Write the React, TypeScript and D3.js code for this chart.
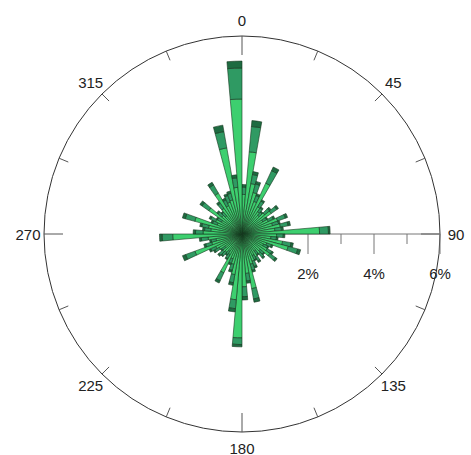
import React from "react";
import * as d3 from "d3";

// Wind direction bins: 72 sectors of 5 degrees, sector i spans [i*5, i*5+5]
const binStarts = d3.range(0, 360, 5);

// Frequency (%) per sector for each speed class, stacked from the centre outward
const speedLow = [
  1.2, 2.5, 1.55, 1.3, 1.05, 1.7, 0.95, 0.82, 0.74, 0.9, 1.08, 0.73,
  0.88, 1.15, 0.96, 1.18, 1.0, 2.35, 1.05, 0.88, 1.25, 1.45, 0.8, 0.72,
  0.88, 1.03, 0.72, 0.78, 0.64, 0.8, 0.72, 0.88, 0.95, 1.68, 1.2, 1.6,
  3.15, 2.0, 1.25, 0.95, 0.8, 1.3, 0.72, 0.64, 0.72, 0.76, 0.64, 0.8,
  0.88, 1.52, 0.95, 0.8, 1.03, 2.1, 1.18, 0.95, 1.03, 1.48, 0.8, 0.88,
  0.72, 1.23, 0.8, 0.72, 0.95, 1.43, 0.95, 1.03, 1.07, 2.65, 1.42, 4.09,
];
const speedMid = [
  0.22, 0.77, 0.28, 0.27, 0.19, 0.42, 0.2, 0.14, 0.12, 0.19, 0.21, 0.13,
  0.17, 0.25, 0.19, 0.24, 0.2, 0.27, 0.2, 0.17, 0.26, 0.3, 0.15, 0.14,
  0.17, 0.21, 0.14, 0.15, 0.12, 0.15, 0.14, 0.17, 0.19, 0.32, 0.23, 0.3,
  0.2, 0.27, 0.25, 0.19, 0.15, 0.26, 0.14, 0.12, 0.14, 0.15, 0.12, 0.15,
  0.17, 0.3, 0.19, 0.15, 0.21, 0.32, 0.23, 0.19, 0.21, 0.3, 0.15, 0.17,
  0.14, 0.25, 0.15, 0.14, 0.19, 0.29, 0.19, 0.21, 0.21, 0.5, 0.29, 0.94,
];
const speedHigh = [
  0.08, 0.18, 0.09, 0.08, 0.06, 0.12, 0.05, 0.04, 0.04, 0.06, 0.06, 0.04,
  0.05, 0.07, 0.05, 0.07, 0.06, 0.05, 0.05, 0.05, 0.07, 0.09, 0.05, 0.04,
  0.05, 0.06, 0.04, 0.05, 0.04, 0.05, 0.04, 0.05, 0.06, 0.1, 0.07, 0.1,
  0.07, 0.1, 0.08, 0.06, 0.05, 0.08, 0.04, 0.04, 0.04, 0.05, 0.04, 0.05,
  0.05, 0.1, 0.06, 0.05, 0.06, 0.08, 0.07, 0.06, 0.06, 0.09, 0.05, 0.05,
  0.04, 0.08, 0.05, 0.04, 0.06, 0.09, 0.06, 0.06, 0.07, 0.2, 0.09, 0.21,
];
const speedSeries = [speedLow, speedMid, speedHigh];
const speedColors = ["#3dcf6f", "#2f9a63", "#1e6b41"];

const angleTicks = [0, 45, 90, 135, 180, 225, 270, 315];
const radialTicks = [0, 2, 4, 6];
const radialMinor = [1, 3, 5];

const W = 471;
const H = 455;
const cx = 242;
const cy = 234;
const R = 198;

export default function App() {
  const r = d3.scaleLinear().domain([0, 6]).range([0, R]);
  const toRad = (deg: number) => (deg * Math.PI) / 180;
  const arc = d3.arc<any>();

  const segments: { d: string; fill: string; key: string }[] = [];
  binStarts.forEach((start, i) => {
    let acc = 0;
    speedSeries.forEach((series, k) => {
      const v = series[i];
      const d = arc({
        innerRadius: r(acc),
        outerRadius: r(acc + v),
        startAngle: toRad(start),
        endAngle: toRad(start + 5),
      }) as string;
      segments.push({ d, fill: speedColors[k], key: `${i}-${k}` });
      acc += v;
    });
  });

  // circle ticks every 22.5 degrees, longer at the cardinal points
  const circleTicks = d3.range(0, 360, 22.5);

  const font = "'Liberation Sans', Arial, sans-serif";

  return (
    <svg
      width={W}
      height={H}
      style={{ position: "absolute", left: 0, top: 0, background: "#fff" }}
    >
      <g transform={`translate(${cx},${cy})`}>
        <circle r={R} fill="none" stroke="#333" strokeWidth={1} />
        {circleTicks.map((a) => {
          const len = a % 90 === 0 ? 19 : 10;
          const s = Math.sin(toRad(a));
          const c = -Math.cos(toRad(a));
          return (
            <line
              key={a}
              x1={s * R}
              y1={c * R}
              x2={s * (R - len)}
              y2={c * (R - len)}
              stroke="#555"
              strokeWidth={1}
            />
          );
        })}
        {angleTicks.map((a) => (
          <text
            key={a}
            x={Math.sin(toRad(a)) * 214}
            y={-Math.cos(toRad(a)) * 214}
            textAnchor="middle"
            dominantBaseline="central"
            fontFamily={font}
            fontSize={15}
            fill="#222"
          >
            {a}
          </text>
        ))}
        {/* radial axis along the 90 degree direction */}
        <line x1={0} y1={0} x2={R} y2={0} stroke="#777" strokeWidth={1} />
        {radialTicks.map((t) => (
          <g key={t} transform={`translate(${r(t)},0)`}>
            <line y1={0} y2={20} stroke="#777" strokeWidth={1} />
            <text
              y={39}
              textAnchor="middle"
              dominantBaseline="central"
              fontFamily={font}
              fontSize={15}
              fill="#222"
            >
              {t === 0 ? "0" : `${t}%`}
            </text>
          </g>
        ))}
        {radialMinor.map((t) => (
          <line
            key={t}
            x1={r(t)}
            x2={r(t)}
            y1={0}
            y2={10}
            stroke="#777"
            strokeWidth={1}
          />
        ))}
        {segments.map((s) => (
          <path
            key={s.key}
            d={s.d}
            fill={s.fill}
            stroke="#16371f"
            strokeWidth={0.6}
          />
        ))}
      </g>
    </svg>
  );
}
